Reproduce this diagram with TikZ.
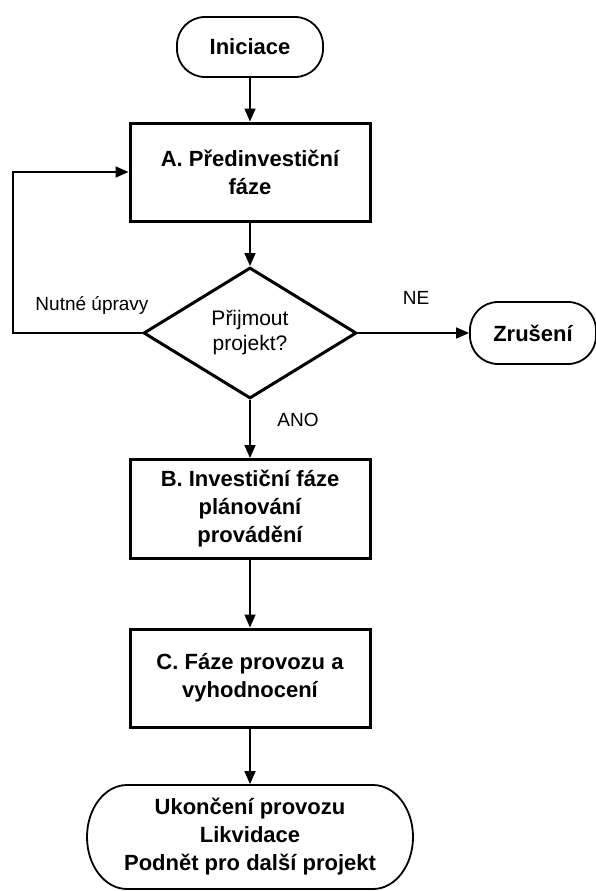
\documentclass[tikz,border=0pt]{standalone}
\usepackage{fontspec}
\setmainfont{Liberation Sans}
\usetikzlibrary{arrows.meta,shapes.geometric}

\tikzset{
  box/.style={draw, line width=3pt, minimum width=240pt, align=center,
    font=\bfseries\fontsize{22}{28}\selectfont},
  term/.style={draw, line width=1.8pt, rounded corners=28pt, align=center,
    font=\bfseries\fontsize{22}{28}\selectfont},
  decision/.style={draw, diamond, line width=3pt, inner sep=0pt, aspect=1.6,
    minimum width=213pt, minimum height=131pt, align=center,
    font=\fontsize{21}{25}\selectfont},
  lbl/.style={inner sep=0pt, font=\fontsize{19}{22}\selectfont},
  arr/.style={line width=1.6pt, -{Triangle[width=11pt,length=13pt]}}
}

\begin{document}
\begin{tikzpicture}[x=1pt,y=1pt,yscale=-1,xscale=1]
\useasboundingbox (0,0) rectangle (595,891);

% Terminals
\node [term, minimum width=146pt, minimum height=60pt] (ini) at (250,47) {Iniciace};
\node [term, minimum width=126pt, minimum height=62pt] (zru) at (533,333) {Zrušení};
\node [term, draw=none, minimum width=326pt, minimum height=104pt] (konec) at (250,837) {Ukončení provozu\\Likvidace\\Podnět pro další projekt};
%Shape: end terminal with oval ends
\draw [line width=1.8pt] (127,785) -- (373,785) arc [start angle=-90, end angle=90, x radius=40, y radius=52]
  -- (127,889) arc [start angle=90, end angle=270, x radius=40, y radius=52] -- cycle;

% Process boxes
\node [box, minimum height=98pt] (predinv) at (250,172) {A. Předinvestiční\\fáze};
\node [box, minimum height=99pt] (inv) at (250,509) {B. Investiční fáze\\plánování\\provádění};
\node [box, minimum height=98pt] (provoz) at (250,678) {C. Fáze provozu a\\vyhodnocení};

% Decision
\node [decision] (prijmout) at (250,333) {Přijmout\\projekt?};

% Labels
\node [lbl] (upravy) at (92,305) {Nutné úpravy};
\node [lbl] (ne) at (416,298) {NE};
\node [lbl] (ano) at (298,420) {ANO};

% Connectors
\coordinate (smycka) at (13,333);
\draw [arr] (ini) -- (predinv);
\draw [arr] (predinv) -- (prijmout);
\draw [arr] (prijmout.west) -- (smycka) |- (predinv.west);
\draw [arr] (prijmout.east) -- (zru.west);
\draw [arr] (prijmout.south) -- (inv);
\draw [arr] (inv) -- (provoz);
\draw [arr] (provoz) -- (konec);

\end{tikzpicture}
\end{document}
